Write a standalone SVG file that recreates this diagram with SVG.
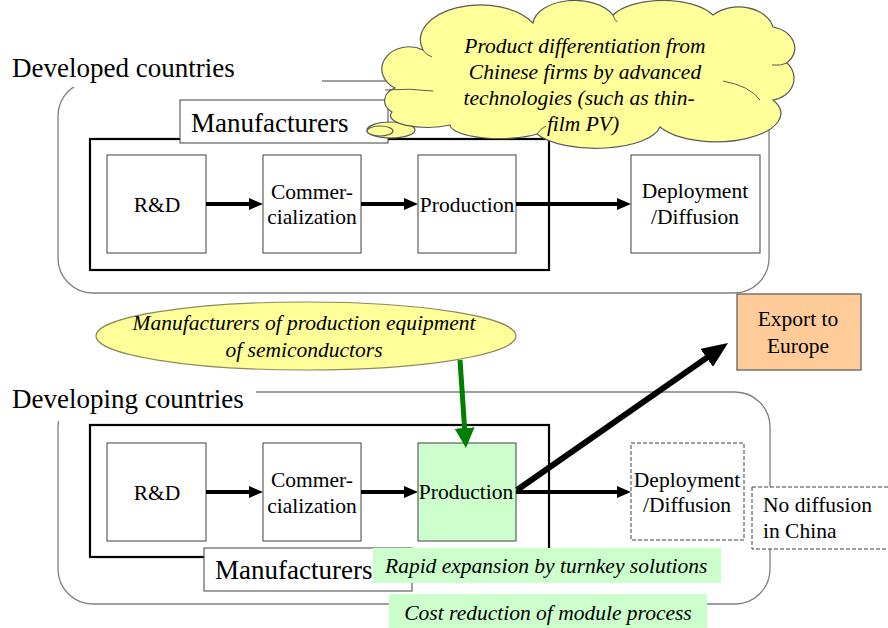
<svg xmlns="http://www.w3.org/2000/svg" width="888" height="628" viewBox="0 0 888 628">
  <style>
    text { font-family: "Liberation Serif", "Times New Roman", serif; fill: #000; }
    .big { font-size: 27px; }
    .box { font-size: 21.5px; }
    .it { font-size: 21.5px; font-style: italic; }
    .mid { text-anchor: middle; }
    .region { fill: none; stroke: #7f7f7f; stroke-width: 1.3; }
    .group { fill: none; stroke: #000; stroke-width: 2.2; }
    .step { fill: #fff; stroke: #404040; stroke-width: 1; }
    .dash { fill: #fff; stroke: #404040; stroke-width: 1; stroke-dasharray: 4 2; }
    .tag { fill: #fff; stroke: #404040; stroke-width: 1; }
    .note { fill: #ccffcc; }
    .cloud { fill: #ffff99; stroke: #595959; stroke-width: 1.2; }
    .crease { fill: none; stroke: #595959; stroke-width: 1; }
    .flow { stroke: #000; stroke-width: 4; fill: none; marker-end: url(#head); }
  </style>
  <defs>
    <marker id="head" markerUnits="userSpaceOnUse" orient="auto" markerWidth="14" markerHeight="12" refX="6" refY="6">
      <path d="M0,0 L14,6 L0,12 z" fill="#000"/>
    </marker>
    <marker id="headBig" markerUnits="userSpaceOnUse" orient="auto" markerWidth="26" markerHeight="22" refX="6" refY="11">
      <path d="M0,0 L26,11 L0,22 z" fill="#000"/>
    </marker>
    <marker id="headGreen" markerUnits="userSpaceOnUse" orient="auto" markerWidth="20" markerHeight="20" refX="6" refY="10">
      <path d="M0,0 L20,10 L0,20 z" fill="#008000"/>
    </marker>
  </defs>

  <!-- Developed countries region -->
  <g id="developed">
    <rect class="region" x="58" y="81" width="711" height="212" rx="35" ry="35"/>
    <rect x="0" y="50" width="322" height="37" fill="#fff"/>
    <text class="big" x="12" y="77">Developed countries</text>
  </g>

  <!-- Developing countries region -->
  <g id="developing">
    <rect class="region" x="58" y="392" width="712" height="212" rx="35" ry="35"/>
    <rect x="0" y="380" width="256" height="41" fill="#fff"/>
    <text class="big" x="12" y="408">Developing countries</text>
  </g>

  <!-- manufacturer groupings -->
  <g id="dev-manufacturers-frame">
    <rect class="group" x="90" y="139" width="459" height="131"/>
  </g>
  <g id="dvg-manufacturers-frame">
    <rect class="group" x="90" y="425" width="459" height="132"/>
  </g>

  <!-- developed: process steps -->
  <g id="dev-rd">
    <rect class="step" x="107" y="155" width="99" height="98"/>
    <text class="box mid" x="157" y="212">R&amp;D</text>
  </g>
  <g id="dev-commercialization">
    <rect class="step" x="263" y="155" width="98" height="98"/>
    <text class="box mid" x="312" y="199">Commer-</text>
    <text class="box mid" x="312" y="224">cialization</text>
  </g>
  <g id="dev-production">
    <rect class="step" x="418" y="155" width="98" height="98"/>
    <text class="box mid" x="467" y="212">Production</text>
  </g>
  <g id="dev-deployment">
    <rect class="step" x="631" y="155" width="129" height="98"/>
    <text class="box mid" x="695" y="198">Deployment</text>
    <text class="box mid" x="695" y="224">/Diffusion</text>
  </g>

  <!-- developing: process steps -->
  <g id="dvg-rd">
    <rect class="step" x="107" y="443" width="99" height="98"/>
    <text class="box mid" x="157" y="500">R&amp;D</text>
  </g>
  <g id="dvg-commercialization">
    <rect class="step" x="263" y="443" width="98" height="98"/>
    <text class="box mid" x="312" y="487">Commer-</text>
    <text class="box mid" x="312" y="513">cialization</text>
  </g>
  <g id="dvg-production">
    <rect class="step" x="418" y="443" width="98" height="98" style="fill:#ccffcc"/>
    <text class="box mid" x="466" y="499">Production</text>
  </g>
  <g id="dvg-deployment">
    <rect class="dash" x="631" y="443" width="113" height="97"/>
    <text class="box mid" x="687" y="487">Deployment</text>
    <text class="box mid" x="687" y="512">/Diffusion</text>
  </g>
  <g id="no-diffusion">
    <rect class="dash" x="752" y="487" width="150" height="62"/>
    <text class="box" x="763" y="512">No diffusion</text>
    <text class="box" x="763" y="538">in China</text>
  </g>

  <!-- export destination -->
  <g id="export">
    <rect x="737" y="294" width="124" height="76" fill="#ffcc99" stroke="#555" stroke-width="1.2"/>
    <text class="box mid" x="798" y="326">Export to</text>
    <text class="box mid" x="798" y="353">Europe</text>
  </g>

  <!-- connectors -->
  <g id="connectors">
    <line class="flow" x1="206" y1="204" x2="255" y2="204"/>
    <line class="flow" x1="361" y1="204" x2="410" y2="204"/>
    <line class="flow" x1="516" y1="204" x2="623" y2="204"/>
    <line class="flow" x1="206" y1="492" x2="255" y2="492"/>
    <line class="flow" x1="361" y1="492" x2="410" y2="492"/>
    <line class="flow" x1="516" y1="492" x2="623" y2="492"/>
    <line x1="517" y1="490" x2="711.6" y2="354.4" stroke="#000" stroke-width="6" marker-end="url(#headBig)"/>
    <line x1="460" y1="360" x2="465" y2="434" stroke="#008000" stroke-width="5" marker-end="url(#headGreen)"/>
  </g>

  <!-- manufacturer labels -->
  <g id="dev-manufacturers-label">
    <rect class="tag" x="180" y="100" width="208" height="43"/>
    <text class="big" x="191" y="132">Manufacturers</text>
  </g>
  <g id="dvg-manufacturers-label">
    <rect class="tag" x="204" y="548" width="208" height="43"/>
    <text class="big" x="215" y="579">Manufacturers</text>
  </g>

  <!-- annotation notes -->
  <g id="turnkey-note">
    <rect class="note" x="373" y="548" width="348" height="35"/>
    <text class="it" x="385" y="573">Rapid expansion by turnkey solutions</text>
  </g>
  <g id="cost-note">
    <rect class="note" x="389" y="594" width="318" height="34"/>
    <text class="it mid" x="548" y="620">Cost reduction of module process</text>
  </g>

  <!-- equipment suppliers -->
  <g id="equipment">
    <ellipse cx="306" cy="336" rx="210" ry="34" fill="#ffff99" stroke="#8c8c5a" stroke-width="1.2"/>
    <text class="it mid" x="304" y="330">Manufacturers of production equipment</text>
    <text class="it mid" x="304" y="357">of semiconductors</text>
  </g>

  <!-- thought cloud -->
  <g id="differentiation">
    <ellipse class="cloud" cx="391" cy="130" rx="24" ry="8"/>
    <ellipse class="cloud" cx="380" cy="131" rx="13" ry="5"/>
    <path class="cloud" d="M537,134 A50,14 0 0 1 450,125 A37,12 0 0 1 392,112 A18,14 0 0 1 395,88 A22,18 0 0 1 423,50 A60,35 0 0 1 533,23 A42,25 0 0 1 613,15 A55,25 0 0 1 713,15 A35,25 0 0 1 773,27 A30,22 0 0 1 787,63 A25,22 0 0 1 773,100 A50,22 0 0 1 660,127 A65,25 0 0 1 537,134 Z"/>
    <path class="crease" d="M385,90 Q410,88 433,91 M423,50 Q426,55 432,57 M723,81 Q750,86 760,100 M787,63 Q781,66 772,65 M537,134 Q540,129 546,126 M613,15 Q614,19 617,22"/>
    <text class="it mid" x="585" y="53">Product differentiation from</text>
    <text class="it mid" x="585" y="79">Chinese firms by advanced</text>
    <text class="it mid" x="579" y="105">technologies (such as thin-</text>
    <text class="it mid" x="583" y="131">film PV)</text>
  </g>
</svg>
